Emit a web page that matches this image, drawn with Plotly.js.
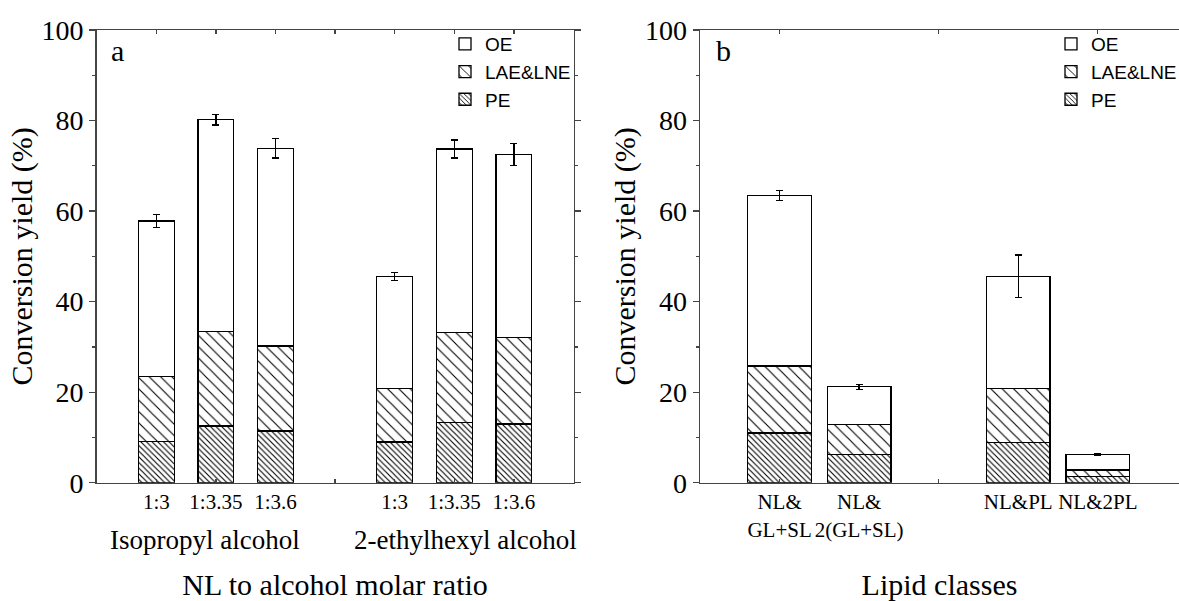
<!DOCTYPE html>
<html>
<head>
<meta charset="utf-8">
<script src="https://cdn.plot.ly/plotly-3.0.1.min.js"></script>
<style>html,body{margin:0;padding:0;background:#fff;}#chart{width:1179px;height:601px;}</style>
</head>
<body>
<div id="chart"></div>
<script>
// ---------- Data ----------
const seriesNames = ['PE', 'LAE&LNE', 'OE'];

// Panel a: NL to alcohol molar ratio
const alcohols = ['Isopropyl alcohol', '2-ethylhexyl alcohol'];
const ratioLabels = ['1:3', '1:3.35', '1:3.6'];
const peA  = [9.1, 12.5, 11.4, 9.0, 13.3, 13.0];
const laeA = [14.4, 20.9, 18.8, 11.8, 19.9, 19.0];
const oeA  = [34.3, 46.8, 43.7, 24.7, 40.5, 40.5];
const errA = [1.4, 1.2, 2.2, 0.9, 2.0, 2.5];

// Panel b: Lipid classes
const lipidGroups = [['NL&<br>GL+SL', 'NL&<br>2(GL+SL)'], ['NL&PL', 'NL&2PL']];
const peB  = [11.0, 6.3, 8.9, 1.3];
const laeB = [14.8, 6.5, 11.9, 1.5];
const oeB  = [37.6, 8.4, 24.8, 3.5];
const errB = [1.1, 0.55, 4.7, 0.2];

// ---------- Positions (groups separated by one empty slot) ----------
const posA = [], txtA = [];
alcohols.forEach((g, gi) => ratioLabels.forEach((r, i) => { posA.push(gi * 4 + i + 1); txtA.push(r); }));
const posB = [], txtB = [];
lipidGroups.forEach((grp, gi) => grp.forEach((lab, i) => { posB.push(gi * 3 + i + 1); txtB.push(lab); }));

// ---------- Styles ----------
const serif = 'Liberation Serif, Times New Roman, serif';
const sans = 'Liberation Sans, Arial, sans-serif';
const patterns = {
  'PE': {shape: '\\', size: 4, solidity: 0.28, fgcolor: '#000', bgcolor: '#fff'},
  'LAE&LNE': {shape: '\\', size: 8, solidity: 0.14, fgcolor: '#000', bgcolor: '#fff'},
  'OE': {shape: '', fgcolor: '#000', bgcolor: '#fff'}
};

function makeTraces(pos, vals, err, xa, ya, legendId, width) {
  return seriesNames.map((name, k) => {
    const t = {
      type: 'bar', name: name, x: pos, y: vals[k], xaxis: xa, yaxis: ya, width: width,
      legend: legendId,
      marker: {color: '#fff', line: {color: '#000', width: 1.3}, pattern: patterns[name]},
      hoverinfo: 'x+y+name'
    };
    if (name === 'OE') {
      t.error_y = {type: 'data', array: err, visible: true, color: '#000', thickness: 1.3, width: 3.5};
    }
    return t;
  });
}

const traces = [
  ...makeTraces(posA, [peA, laeA, oeA], errA, 'x', 'y', 'legend', 0.6),
  ...makeTraces(posB, [peB, laeB, oeB], errB, 'x2', 'y2', 'legend2', 0.8)
];

// tick arrays
const tickA = [], tickTextA = [];
for (let v = 1; v <= 7; v++) { tickA.push(v); const i = posA.indexOf(v); tickTextA.push(i >= 0 ? txtA[i] : ''); }

const W = 1179, H = 601;
const yTop = 30, yBot = 482.7;
const yDomain = [1 - yBot / H, 1 - yTop / H];

const axisLine = {showline: true, linecolor: '#444', linewidth: 1.5, mirror: 'ticks', zeroline: false, showgrid: false};

const yAxisBase = Object.assign({}, axisLine, {
  domain: yDomain, range: [0, 100], dtick: 20, tick0: 0,
  ticks: 'outside', ticklen: 6, tickwidth: 1.3, tickcolor: '#444',
  minor: {dtick: 10, ticks: 'outside', ticklen: 3, tickwidth: 1.3, tickcolor: '#444'},
  tickfont: {family: serif, size: 28, color: '#000'},
  title: {text: 'Conversion yield (%)', font: {family: serif, size: 30, color: '#000'}, standoff: 0}
});

const legendBase = {
  xanchor: 'left', yanchor: 'top', traceorder: 'reversed',
  bgcolor: 'rgba(0,0,0,0)', borderwidth: 0,
  font: {family: sans, size: 19, color: '#000'}, tracegroupgap: 0, itemwidth: 30
};

const layout = {
  width: W, height: H,
  margin: {l: 0, r: 0, t: 0, b: 0, autoexpand: false},
  paper_bgcolor: '#fff', plot_bgcolor: '#fff',
  barmode: 'stack',
  font: {family: serif, color: '#000'},
  xaxis: Object.assign({}, axisLine, {
    domain: [96.7 / W, 573.5 / W], range: [0, 8], anchor: 'y',
    tickmode: 'array', tickvals: tickA, ticktext: tickTextA,
    ticks: 'inside', ticklen: 4, tickwidth: 1.3, tickcolor: '#444',
    tickfont: {family: serif, size: 21, color: '#000'},
    title: {text: 'NL to alcohol molar ratio', font: {family: serif, size: 30, color: '#000'}, standoff: 60}
  }),
  yaxis: Object.assign({}, yAxisBase, {anchor: 'x'}),
  xaxis2: Object.assign({}, axisLine, {
    domain: [700 / W, 1], range: [0, 6.02], anchor: 'y2',
    tickmode: 'array', tickvals: posB, ticktext: txtB,
    ticks: 'inside', ticklen: 0, tickwidth: 1.3, tickcolor: '#444',
    minor: {tickmode: 'array', tickvals: [1, 3, 5], ticks: 'inside', ticklen: 4, tickwidth: 1.3, tickcolor: '#444'},
    tickfont: {family: serif, size: 21, color: '#000'},
    title: {text: 'Lipid classes', font: {family: serif, size: 30, color: '#000'}, standoff: 33}
  }),
  yaxis2: Object.assign({}, yAxisBase, {anchor: 'x2'}),
  legend: Object.assign({}, legendBase, {x: 445 / W, y: 1 - 25 / H}),
  legend2: Object.assign({}, legendBase, {x: 1051 / W, y: 1 - 25 / H}),
  annotations: [
    {text: 'a', xref: 'x domain', yref: 'y domain', x: 0.025, y: 0.955, xanchor: 'left', yanchor: 'middle', showarrow: false, font: {family: serif, size: 30, color: '#000'}},
    {text: 'b', xref: 'x2 domain', yref: 'y2 domain', x: 0.03, y: 0.955, xanchor: 'left', yanchor: 'middle', showarrow: false, font: {family: serif, size: 30, color: '#000'}},
    {text: alcohols[0], xref: 'x', yref: 'paper', x: 1.81, y: 1 - 540 / H, xanchor: 'center', yanchor: 'middle', showarrow: false, font: {family: serif, size: 27, color: '#000'}},
    {text: alcohols[1], xref: 'x', yref: 'paper', x: 6.18, y: 1 - 540 / H, xanchor: 'center', yanchor: 'middle', showarrow: false, font: {family: serif, size: 27, color: '#000'}}
  ],
  showlegend: true
};

Plotly.newPlot('chart', traces, layout, {displayModeBar: false, staticPlot: true});
</script>
</body>
</html>
